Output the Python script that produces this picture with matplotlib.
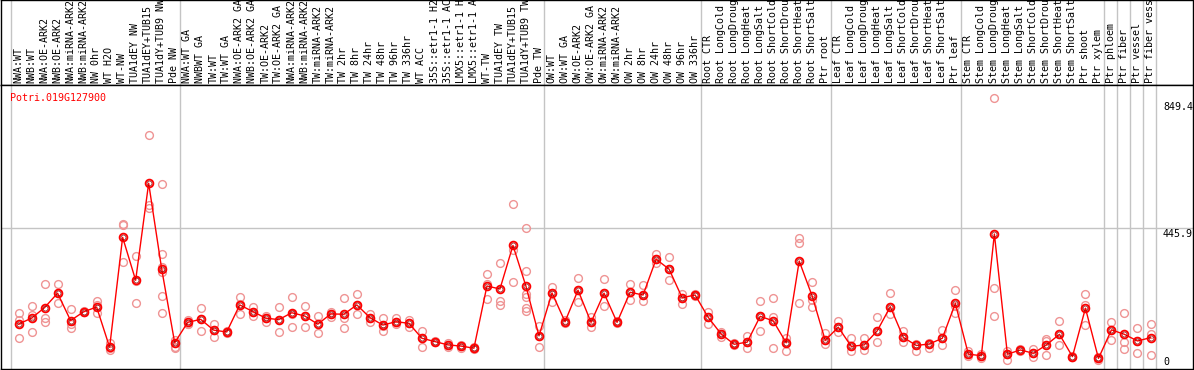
import matplotlib
matplotlib.use("Agg")
import matplotlib.pyplot as plt

labels = [
    "NWA:WT", "NWB:WT", "NWA:OE-ARK2", "NWB:OE-ARK2", "NWA:miRNA-ARK2", "NWB:miRNA-ARK2",
    "NW 0hr", "WT H2O", "WT-NW", "TUA1dEY NW", "TUA1dEY+TUB15", "TUA1dY+TUB9 NW", "Pde NW",
    "NWA:WT GA", "NWBWT GA", "TW:WT", "TW:WT GA", "NWA:OE-ARK2 GA", "NWB:OE-ARK2 GA",
    "TW:OE-ARK2", "TW:OE-ARK2 GA", "NWA:miRNA-ARK2", "NWB:miRNA-ARK2", "TW:miRNA-ARK2",
    "TW:miRNA-ARK2", "TW 2hr", "TW 8hr", "TW 24hr", "TW 48hr", "TW 96hr", "TW 336hr",
    "WT ACC", "35S::etr1-1 H2O", "35S::etr1-1 ACC", "LMX5::etr1-1 H2O", "LMX5::etr1-1 ACC",
    "WT-TW", "TUA1dEY TW", "TUA1dEY+TUB15", "TUA1dY+TUB9 TW", "Pde TW",
    "OW:WT", "OW:WT GA", "OW:OE-ARK2", "OW:OE-ARK2 GA", "OW:miRNA-ARK2", "OW:miRNA-ARK2",
    "OW 2hr", "OW 8hr", "OW 24hr", "OW 48hr", "OW 96hr", "OW 336hr",
    "Root CTR", "Root LongCold", "Root LongDrought", "Root LongHeat", "Root LongSalt",
    "Root ShortCold", "Root ShortDrought", "Root ShortHeat", "Root ShortSalt", "Ptr root",
    "Leaf CTR", "Leaf LongCold", "Leaf LongDrought", "Leaf LongHeat", "Leaf LongSalt",
    "Leaf ShortCold", "Leaf ShortDrought", "Leaf ShortHeat", "Leaf ShortSalt", "Ptr leaf",
    "Stem CTR", "Stem LongCold", "Stem LongDrought", "Stem LongHeat", "Stem LongSalt",
    "Stem ShortCold", "Stem ShortDrought", "Stem ShortHeat", "Stem ShortSalt", "Ptr shoot",
    "Ptr xylem", "Ptr phloem", "Ptr fiber", "Ptr vessel", "Ptr fiber vessel",
]

means = [
    126, 146, 181, 229, 138, 167, 183, 49, 415, 272, 595, 310, 64,
    132, 142, 106, 100, 190, 168, 146, 141, 164, 153, 126, 160, 159, 190, 148, 123,
    134, 129, 79, 68, 57, 53, 46, 253, 243, 388, 252, 87,
    230, 134, 239, 132, 229, 132, 232, 223, 342, 309, 214, 223,
    149, 93, 59, 66, 152, 137, 64, 336, 219, 72,
    116, 52, 57, 104, 184, 82, 55, 60, 79, 195,
    26, 21, 426, 26, 40, 29, 57, 92, 18, 179, 12,
    107, 92, 70, 81,
]

replicates = [
    [162, 140, 79], [187, 157, 99], [261, 148, 134], [261, 229, 195], [175, 126, 112],
    [170, 165, 166], [203, 190, 162], [62, 46, 40], [455, 458, 332], [352, 270, 195],
    [754, 523, 512], [593, 360, 317, 301, 220, 162], [73, 51, 46],
    [140, 128, 128], [179, 143, 104], [127, 108, 82], [102, 100, 98], [217, 192, 161],
    [184, 168, 154], [154, 146, 132], [182, 141, 101], [217, 160, 116], [187, 153, 116],
    [153, 126, 96], [168, 160, 150], [212, 146, 112], [226, 190, 161], [161, 148, 134],
    [148, 120, 104], [146, 134, 126], [139, 129, 118], [103, 79, 49], [70, 68, 66],
    [62, 57, 51], [58, 53, 48], [49, 46, 43], [292, 259, 210], [329, 203, 190],
    [525, 373, 265], [445, 303, 226, 217, 179, 170], [121, 87, 51],
    [248, 230, 201], [140, 134, 129], [279, 239, 201], [149, 132, 118], [275, 229, 187],
    [137, 132, 129], [259, 232, 207], [256, 223, 204], [360, 342, 329], [348, 309, 272],
    [226, 214, 192], [226, 223, 218],
    [168, 149, 128], [101, 93, 82], [62, 59, 56], [88, 66, 48], [203, 152, 103],
    [214, 149, 46], [79, 68, 38], [412, 395, 198], [265, 207, 182], [96, 72, 61],
    [137, 116, 101], [79, 52, 35], [79, 57, 40], [149, 104, 66], [229, 184, 161],
    [103, 82, 66], [60, 55, 37], [64, 60, 48], [107, 79, 57], [240, 185, 162],
    [35, 26, 20], [26, 21, 13], [878, 245, 153], [35, 26, 7], [42, 40, 37],
    [42, 29, 18], [77, 70, 23], [137, 92, 57], [20, 18, 16], [226, 190, 123], [17, 12, 7],
    [132, 107, 72], [162, 68, 42], [112, 70, 29], [126, 92, 23],
]

group_bounds = [0, 13, 41, 53, 63, 73, 84, 85, 86, 87, 88]
axis_labels = ["849.4", "445.9", "0"]
axis_values = [849.4, 445.9, 0.0]
title = "Potri.019G127900"

W, H = 1194, 370
fig = plt.figure(figsize=(W / 100, H / 100), dpi=100)

px0, px1 = 1, 1193
header_bottom = 85
plot_bottom = 369
col_w = 13.011
col0 = 11
xlim = ((px0 - col0) / col_w, (px1 - col0) / col_w)

font = "DejaVu Sans Mono"
fs = 7.2
grid_c = "#c4c4c4"

# header axes
axh = fig.add_axes([px0 / W, 1 - header_bottom / H, (px1 - px0) / W, header_bottom / H])
axh.set_xlim(xlim)
axh.set_ylim(header_bottom, 0)
axh.set_xticks([]); axh.set_yticks([])
for s in axh.spines.values():
    s.set_color("black"); s.set_linewidth(1.0)
for b in group_bounds:
    axh.axvline(b, color=grid_c, lw=1.0, zorder=0)
for i, lab in enumerate(labels):
    axh.text(i + 0.55, 83, lab, rotation=90, ha="center", va="bottom",
             family=font, fontsize=fs, color="black", clip_on=True)

# plot axes
ax = fig.add_axes([px0 / W, 1 - plot_bottom / H, (px1 - px0) / W, (plot_bottom - header_bottom) / H])
ax.set_xlim(xlim)
ax.set_ylim(-23.3, 921.9)
ax.set_xticks([]); ax.set_yticks([])
for s in ax.spines.values():
    s.set_color("black"); s.set_linewidth(1.0)
for b in group_bounds:
    ax.axvline(b, color=grid_c, lw=1.0, zorder=0)
ax.axhline(axis_values[1], color=grid_c, lw=1.0, zorder=0)

xs = [i + 0.58 for i in range(len(means))]
for x, reps in zip(xs, replicates):
    ax.plot([x] * len(reps), reps, linestyle="none", marker="o", markersize=5.6,
            markerfacecolor="none", markeredgecolor="#ef9494", markeredgewidth=1.0, zorder=2)
ax.plot(xs, means, color="#ff0000", lw=1.0, zorder=3)
ax.plot(xs, means, linestyle="none", marker="o", markersize=5.6,
        markerfacecolor="none", markeredgecolor="#ff0000", markeredgewidth=1.3, zorder=4)
ax.plot(xs, means, linestyle="none", marker="o", markersize=3.6,
        markerfacecolor="none", markeredgecolor="#8a0000", markeredgewidth=0.5, zorder=5)

ax.text((10 - col0) / col_w, 895, title, ha="left", va="top", family=font,
        fontsize=fs, color="#ff0000")

xlab = (1163 - col0) / col_w
vas = ["center", "top", "center"]
for lab, v, va in zip(axis_labels, axis_values, vas):
    ax.text(xlab, v if va == "center" else v - 3, lab, ha="left", va=va,
            family=font, fontsize=fs, color="black")

fig.savefig("out.png", dpi=100)
